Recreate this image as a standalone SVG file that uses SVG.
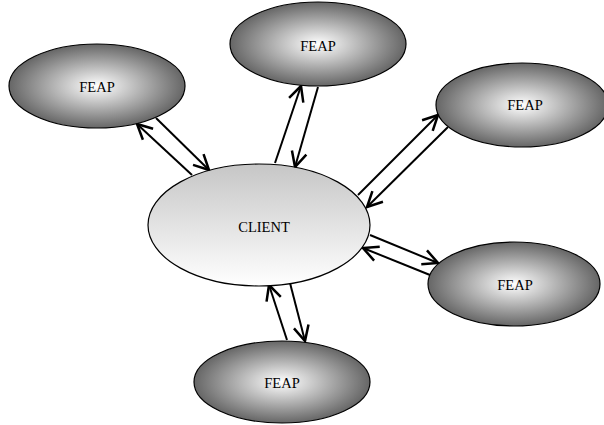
<svg xmlns="http://www.w3.org/2000/svg" width="604" height="425" viewBox="0 0 604 425">
<style>
.feap{fill:url(#rg);stroke:#000;stroke-width:1.2}
.client{fill:url(#lg);stroke:#000;stroke-width:1.2}
.t{font-family:"Liberation Serif","Times New Roman",serif;font-size:14.5px;fill:#000;text-anchor:middle;dominant-baseline:central}
.c{stroke:#000;stroke-width:2;fill:none;marker-end:url(#ah)}
</style>
<defs>
<radialGradient id="rg" cx="50%" cy="50%" r="50%">
<stop offset="0" stop-color="#ffffff"/>
<stop offset="1" stop-color="#666666"/>
</radialGradient>
<linearGradient id="lg" x1="0" y1="0" x2="0" y2="1">
<stop offset="0" stop-color="#c6c6c6"/>
<stop offset="1" stop-color="#ffffff"/>
</linearGradient>
<marker id="ah" markerUnits="userSpaceOnUse" markerWidth="20" markerHeight="20" viewBox="-14 -8 16 16" refX="0" refY="0" orient="auto">
<path d="M-12,-6 L0,0 L-12,6" fill="none" stroke="#000" stroke-width="2"/>
</marker>
</defs>
<g id="connectors">
<line class="c" x1="192" y1="175" x2="137" y2="124"/>
<line class="c" x1="156" y1="118" x2="209" y2="170"/>
<line class="c" x1="275" y1="163" x2="301" y2="86"/>
<line class="c" x1="318" y1="87" x2="295" y2="167"/>
<line class="c" x1="358" y1="195" x2="438" y2="115"/>
<line class="c" x1="448" y1="127" x2="367" y2="207"/>
<line class="c" x1="370" y1="235" x2="438" y2="263"/>
<line class="c" x1="430" y1="275" x2="363" y2="248"/>
<line class="c" x1="287" y1="340" x2="269" y2="285"/>
<line class="c" x1="290" y1="283" x2="305" y2="341"/>
</g>
<g id="client">
<ellipse class="client" cx="259" cy="225" rx="111" ry="61"/>
<text class="t" x="264" y="227">CLIENT</text>
</g>
<g id="feap1">
<ellipse class="feap" cx="97" cy="86" rx="88" ry="42"/>
<text class="t" x="97" y="87">FEAP</text>
</g>
<g id="feap2">
<ellipse class="feap" cx="318" cy="44" rx="88" ry="42"/>
<text class="t" x="318" y="46">FEAP</text>
</g>
<g id="feap3">
<ellipse class="feap" cx="522" cy="105" rx="86" ry="42"/>
<text class="t" x="525" y="105">FEAP</text>
</g>
<g id="feap4">
<ellipse class="feap" cx="514" cy="284" rx="86" ry="42"/>
<text class="t" x="515" y="285">FEAP</text>
</g>
<g id="feap5">
<ellipse class="feap" cx="282" cy="382" rx="88" ry="41"/>
<text class="t" x="282" y="383">FEAP</text>
</g>
</svg>
